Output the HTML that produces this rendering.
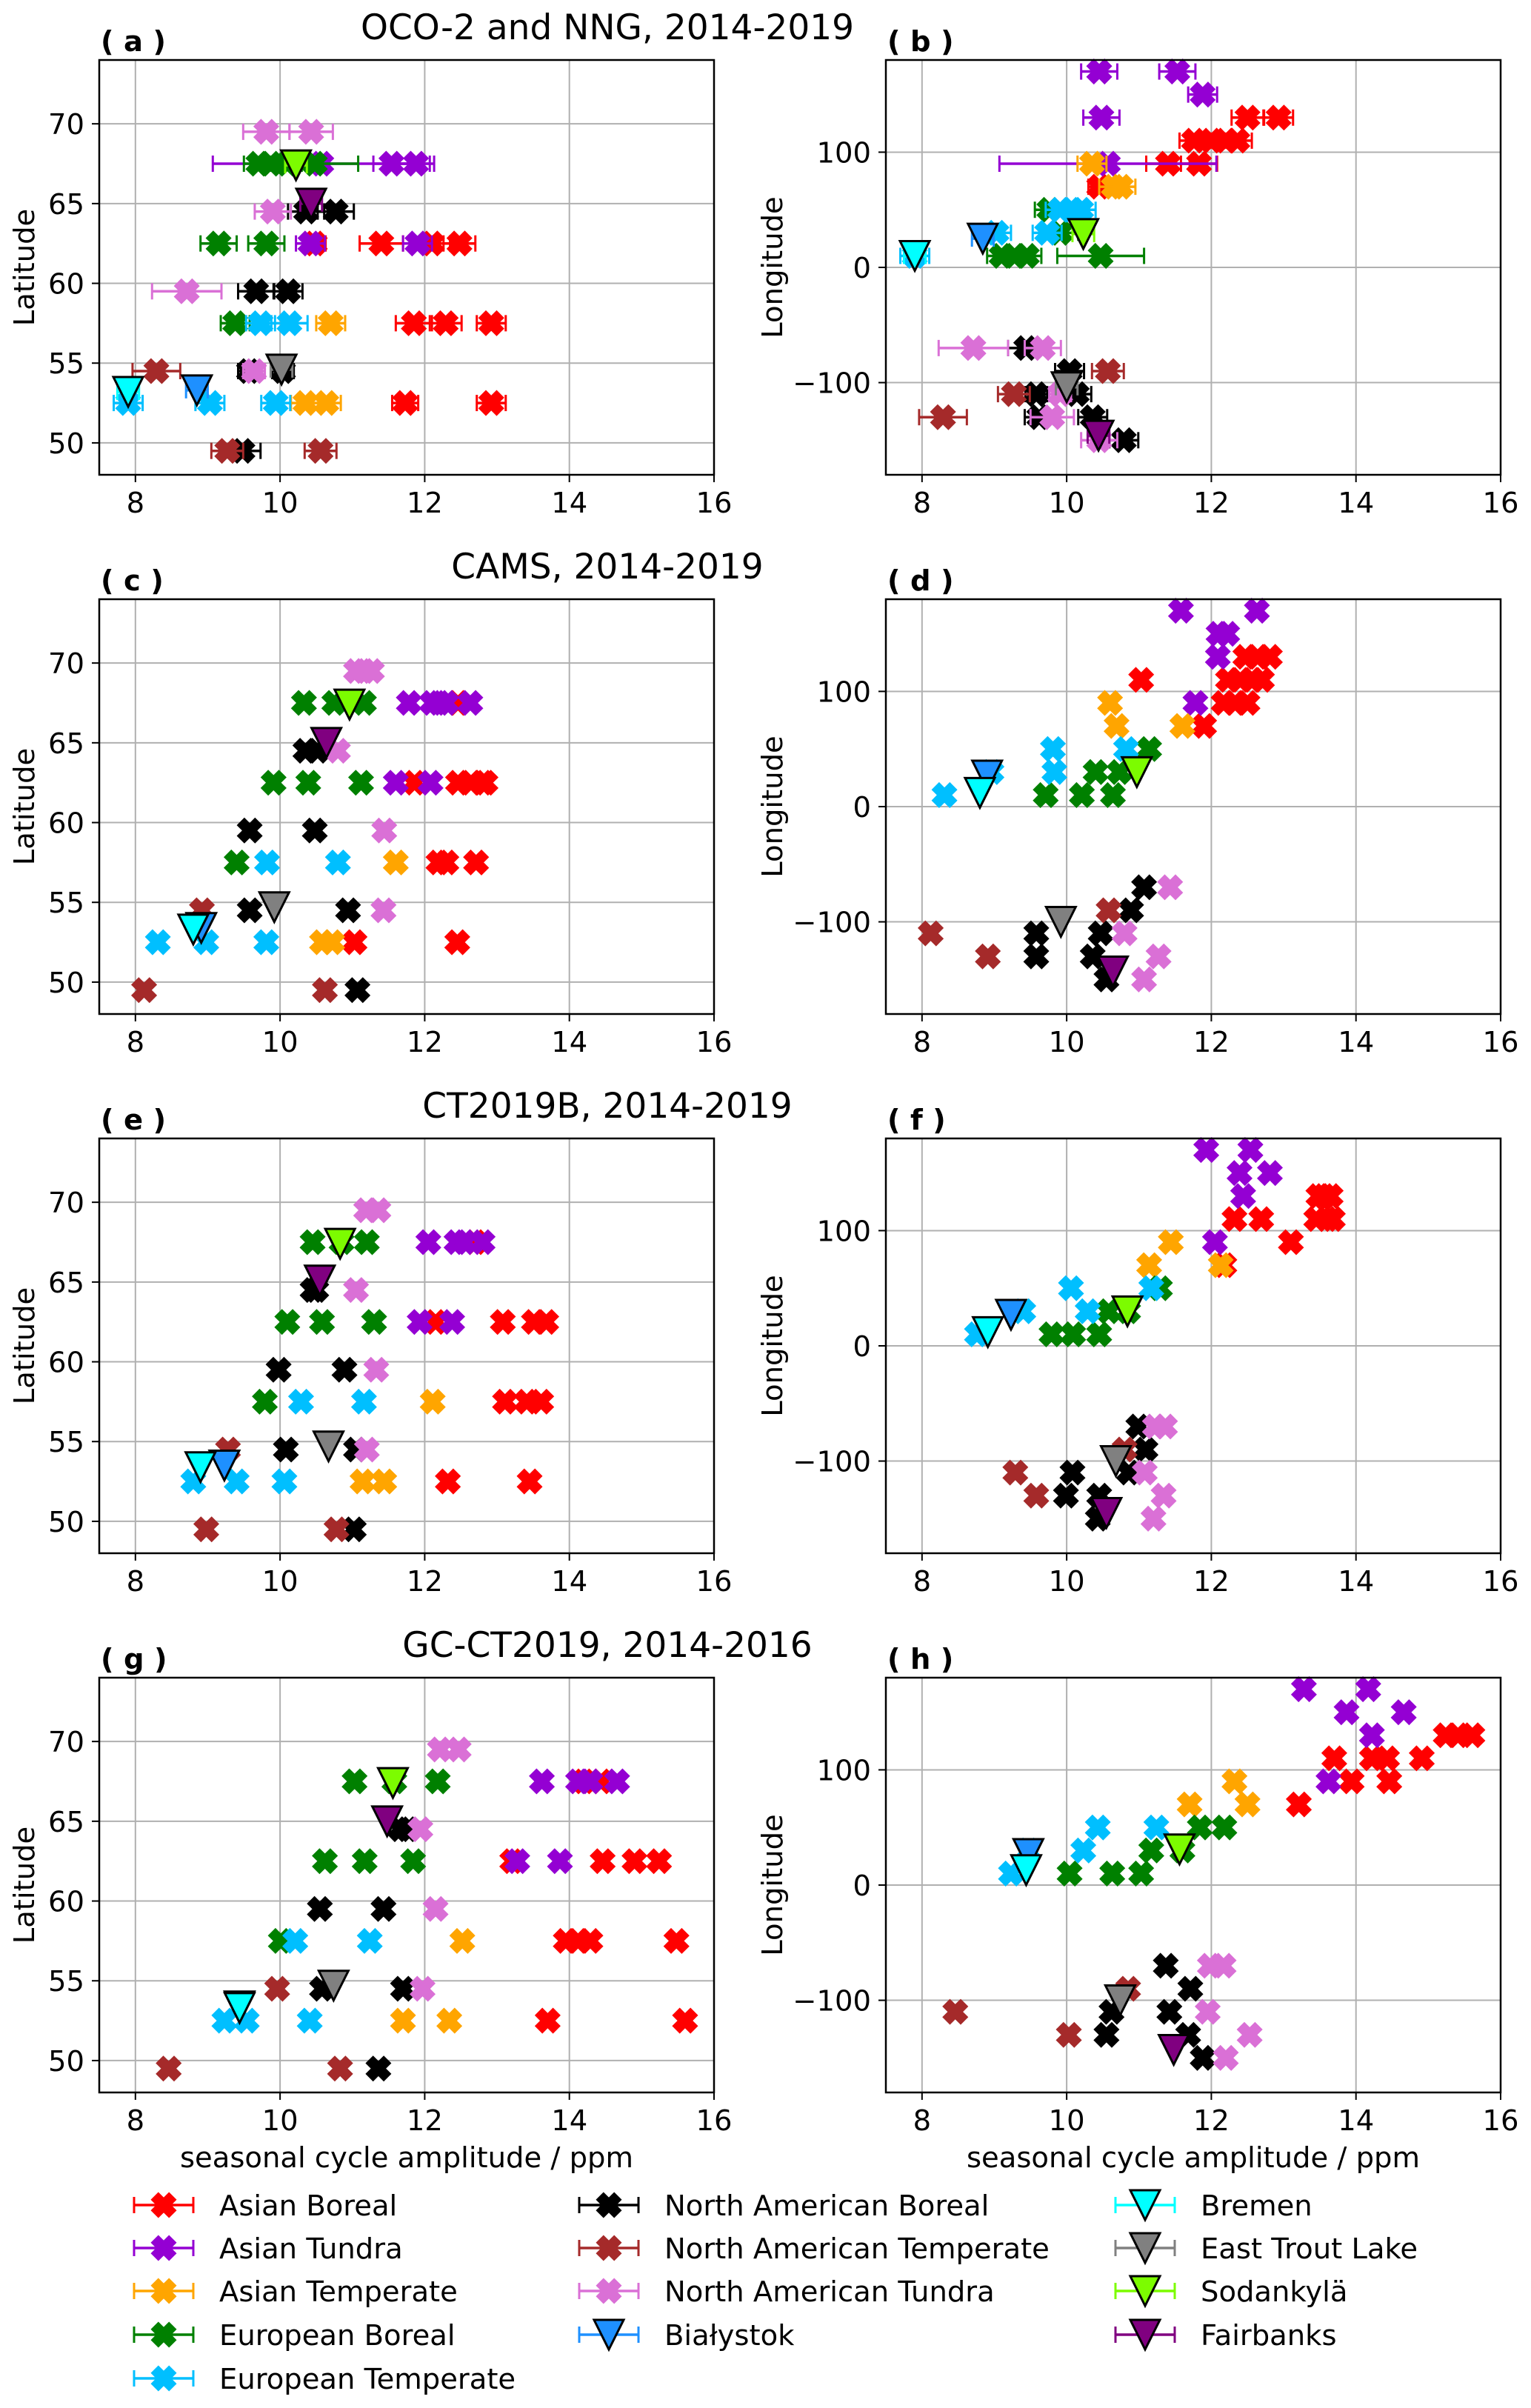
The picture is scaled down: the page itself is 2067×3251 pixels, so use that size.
<!DOCTYPE html>
<html><head><meta charset="utf-8"><title>Seasonal cycle amplitude</title>
<style>
html,body{margin:0;padding:0;background:#fff;}
svg{display:block;font-family:"DejaVu Sans","Liberation Sans",sans-serif;}
</style></head>
<body>
<svg id="fig" width="2067" height="3251" viewBox="0 0 2067 3251" xmlns="http://www.w3.org/2000/svg"></svg>
<script>
// ---------- Panel (a): OCO-2 and NNG, latitude ----------
const aAB_x=[10.48,11.4,12.1,12.48,11.85,12.29,12.92,11.73,12.92];
const aAB_y=[62.5,62.5,62.5,62.5,57.5,57.5,57.5,52.5,52.5];
const aAB_e=[0.15,0.3,0.25,0.22,0.25,0.22,0.2,0.18,0.2];
const aAT_x=[10.57,11.54,11.88,10.42,11.9];
const aAT_y=[67.5,67.5,67.5,62.5,62.5];
const aAT_e=[1.5,0.25,0.25,0.2,0.2];
const aATe_x=[10.7,10.35,10.64];
const aATe_y=[57.5,52.5,52.5];
const aATe_e=[0.2,0.2,0.2];
const aEB_x=[9.7,9.87,10.1,10.48,9.15,9.81,9.38];
const aEB_y=[67.5,67.5,67.5,67.5,62.5,62.5,57.5];
const aEB_e=[0.2,0.2,0.2,0.6,0.25,0.25,0.2];
const aET_x=[9.73,10.13,7.9,9.03,9.94];
const aET_y=[57.5,57.5,52.5,52.5,52.5];
const aET_e=[0.2,0.25,0.2,0.2,0.2];
const aNAB_x=[10.36,10.77,9.67,10.11,9.57,10.04,9.48];
const aNAB_y=[64.5,64.5,59.5,59.5,54.5,54.5,49.5];
const aNAB_e=[0.25,0.25,0.25,0.2,0.15,0.15,0.25];
const aNAT_x=[8.29,9.27,10.56];
const aNAT_y=[54.5,49.5,49.5];
const aNAT_e=[0.33,0.22,0.22];
const aNATu_x=[9.81,10.43,9.9,8.71,9.64];
const aNATu_y=[69.5,69.5,64.5,59.5,54.5];
const aNATu_e=[0.32,0.3,0.25,0.48,0.15];
// sites order: Bialystok, Bremen, East Trout Lake, Sodankyla, Fairbanks
const aSite_x=[8.85,7.9,10.02,10.22,10.43];
const aSite_y=[53.3,53.2,54.6,67.4,65.0];
const aSite_e=[0.15,0.15,0.15,0.15,0.15];

// ---------- Panel (b): OCO-2 and NNG, longitude ----------
const bAB_x=[12.5,12.93,11.76,12.0,12.2,12.36,11.4,11.83,10.45];
const bAB_y=[130,130,110,110,110,110,90,90,70];
const bAB_e=[0.22,0.2,0.2,0.2,0.2,0.2,0.3,0.25,0.15];
const bAT_x=[10.45,11.53,11.88,10.48,10.57];
const bAT_y=[170,170,150,130,90];
const bAT_e=[0.25,0.25,0.2,0.25,1.5];
const bATe_x=[10.35,10.65,10.75];
const bATe_y=[90,70,70];
const bATe_e=[0.2,0.2,0.2];
const bEB_x=[9.76,9.91,9.1,9.28,9.45,10.47];
const bEB_y=[50,30,10,10,10,10];
const bEB_e=[0.2,0.25,0.2,0.2,0.2,0.6];
const bET_x=[9.91,10.08,10.2,9.03,9.73,7.9];
const bET_y=[50,50,50,30,30,10];
const bET_e=[0.2,0.2,0.2,0.2,0.2,0.2];
const bNAB_x=[9.44,10.04,9.58,10.14,9.62,10.36,10.79];
const bNAB_y=[-70,-90,-110,-110,-130,-130,-150];
const bNAB_e=[0.25,0.2,0.15,0.2,0.2,0.2,0.2];
const bNAT_x=[10.57,9.27,8.29];
const bNAT_y=[-90,-110,-130];
const bNAT_e=[0.22,0.22,0.33];
const bNATu_x=[8.71,9.67,9.91,9.8,10.45];
const bNATu_y=[-70,-70,-110,-130,-150];
const bNATu_e=[0.48,0.25,0.15,0.3,0.25];
const bSite_x=[8.84,7.9,10.0,10.23,10.44];
const bSite_y=[25,10,-104,29,-146];
const bSite_e=[0.15,0.15,0.15,0.15,0.15];

// ---------- Panel (c): CAMS, latitude ----------
const cAB_x=[12.46,11.86,12.46,12.64,12.8,12.84,12.19,12.3,12.71,11.03,12.45];
const cAB_y=[67.5,62.5,62.5,62.5,62.5,62.5,57.5,57.5,57.5,52.5,52.5];
const cAT_x=[11.78,12.1,12.2,12.3,12.63,11.6,12.08];
const cAT_y=[67.5,67.5,67.5,67.5,67.5,62.5,62.5];
const cATe_x=[11.6,10.58,10.72];
const cATe_y=[57.5,52.5,52.5];
const cEB_x=[10.33,10.75,11.16,9.91,10.39,11.12,9.4];
const cEB_y=[67.5,67.5,67.5,62.5,62.5,62.5,57.5];
const cET_x=[9.82,10.8,8.31,8.98,9.81];
const cET_y=[57.5,57.5,52.5,52.5,52.5];
const cNAB_x=[10.35,10.52,9.58,10.48,9.58,10.94,11.07];
const cNAB_y=[64.5,64.5,59.5,59.5,54.5,54.5,49.5];
const cNAT_x=[8.92,8.12,10.62];
const cNAT_y=[54.5,49.5,49.5];
const cNATu_x=[11.05,11.16,11.27,10.8,11.44,11.43];
const cNATu_y=[69.5,69.5,69.5,64.5,59.5,54.5];
const cSite_x=[8.91,8.8,9.92,10.96,10.64];
const cSite_y=[53.4,53.3,54.7,67.4,65.0];

// ---------- Panel (d): CAMS, longitude ----------
const dAB_x=[12.47,12.64,12.81,11.03,12.23,12.4,12.57,12.7,12.17,12.33,12.5,11.9];
const dAB_y=[130,130,130,110,110,110,110,110,90,90,90,70];
const dAT_x=[11.58,12.63,12.1,12.22,12.09,11.78];
const dAT_y=[170,170,150,150,130,90];
const dATe_x=[10.6,10.69,11.6];
const dATe_y=[90,70,70];
const dEB_x=[11.14,10.4,10.73,9.71,10.21,10.64];
const dEB_y=[50,30,30,10,10,10];
const dET_x=[9.81,10.82,9.83,8.96,8.31];
const dET_y=[50,50,30,30,10];
const dNAB_x=[11.07,10.89,9.58,10.47,9.58,10.36,10.55];
const dNAB_y=[-70,-90,-110,-110,-130,-130,-150];
const dNAT_x=[10.58,8.12,8.91];
const dNAT_y=[-90,-110,-130];
const dNATu_x=[11.43,10.8,11.27,11.07];
const dNATu_y=[-70,-110,-130,-150];
const dSite_x=[8.9,8.8,9.92,10.97,10.64];
const dSite_y=[27,12,-100,30,-143];

// ---------- Panel (e): CT2019B, latitude ----------
const eAB_x=[12.7,12.15,13.08,13.51,13.68,13.11,13.41,13.61,12.32,13.45];
const eAB_y=[67.5,62.5,62.5,62.5,62.5,57.5,57.5,57.5,52.5,52.5];
const eAT_x=[12.05,12.44,12.55,12.8,11.93,12.38];
const eAT_y=[67.5,67.5,67.5,67.5,62.5,62.5];
const eATe_x=[12.11,11.14,11.44];
const eATe_y=[57.5,52.5,52.5];
const eEB_x=[10.45,10.85,11.2,10.1,10.58,11.3,9.79];
const eEB_y=[67.5,67.5,67.5,62.5,62.5,62.5,57.5];
const eET_x=[10.29,11.16,8.8,9.4,10.06];
const eET_y=[57.5,57.5,52.5,52.5,52.5];
const eNAB_x=[10.45,10.5,9.98,10.89,10.08,11.05,11.02];
const eNAB_y=[64.5,64.5,59.5,59.5,54.5,54.5,49.5];
const eNAT_x=[9.28,8.98,10.78];
const eNAT_y=[54.5,49.5,49.5];
const eNATu_x=[11.19,11.36,11.05,11.33,11.2];
const eNATu_y=[69.5,69.5,64.5,59.5,54.5];
const eSite_x=[9.23,8.9,10.67,10.83,10.55];
const eSite_y=[53.5,53.4,54.7,67.4,65.1];

// ---------- Panel (f): CT2019B, longitude ----------
const fAB_x=[13.48,13.56,13.65,12.32,12.69,13.45,13.6,13.68,13.1,12.18];
const fAB_y=[130,130,130,110,110,110,110,110,90,70];
const fAT_x=[11.93,12.54,12.39,12.81,12.44,12.05];
const fAT_y=[170,170,150,150,130,90];
const fATe_x=[11.44,11.14,12.13];
const fATe_y=[90,70,70];
const fEB_x=[11.29,10.58,10.85,9.79,10.09,10.45];
const fEB_y=[50,30,30,10,10,10];
const fET_x=[10.06,11.17,9.4,10.29,8.76];
const fET_y=[50,50,30,30,10];
const fNAB_x=[10.99,11.09,10.08,10.86,9.99,10.45,10.43];
const fNAB_y=[-70,-90,-110,-110,-130,-130,-150];
const fNAT_x=[10.8,9.29,9.58];
const fNAT_y=[-90,-110,-130];
const fNATu_x=[11.22,11.36,11.08,11.34,11.2];
const fNATu_y=[-70,-70,-110,-130,-150];
const fSite_x=[9.23,8.91,10.68,10.84,10.55];
const fSite_y=[27,12,-100,30,-145];

// ---------- Panel (g): GC-CT2019, latitude ----------
const gAB_x=[14.2,14.44,13.21,14.46,14.9,15.24,13.95,14.12,14.29,15.48,13.7,15.6];
const gAB_y=[67.5,67.5,62.5,62.5,62.5,62.5,57.5,57.5,57.5,57.5,52.5,52.5];
const gAT_x=[13.62,14.12,14.29,14.66,13.28,13.87];
const gAT_y=[67.5,67.5,67.5,67.5,62.5,62.5];
const gATe_x=[12.52,11.7,12.34];
const gATe_y=[57.5,52.5,52.5];
const gEB_x=[11.03,11.58,12.18,10.62,11.17,11.84,10.01];
const gEB_y=[67.5,67.5,67.5,62.5,62.5,62.5,57.5];
const gET_x=[10.21,11.24,9.23,9.54,10.41];
const gET_y=[57.5,57.5,52.5,52.5,52.5];
const gNAB_x=[11.66,11.76,10.55,11.43,10.58,11.7,11.36];
const gNAB_y=[64.5,64.5,59.5,59.5,54.5,54.5,49.5];
const gNAT_x=[9.96,8.46,10.83];
const gNAT_y=[54.5,49.5,49.5];
const gNATu_x=[12.21,12.47,11.94,12.15,11.97];
const gNATu_y=[69.5,69.5,64.5,59.5,54.5];
const gSite_x=[9.44,9.44,10.74,11.56,11.48];
const gSite_y=[53.4,53.3,54.7,67.4,65.0];

// ---------- Panel (h): GC-CT2019, longitude ----------
const hAB_x=[15.24,15.41,15.61,13.7,14.22,14.43,14.91,13.94,14.46,13.21];
const hAB_y=[130,130,130,110,110,110,110,90,90,70];
const hAT_x=[13.28,14.17,13.87,14.66,14.22,13.62];
const hAT_y=[170,170,150,150,130,90];
const hATe_x=[12.32,11.7,12.5];
const hATe_y=[90,70,70];
const hEB_x=[11.84,12.18,11.17,11.6,10.04,10.63,11.03];
const hEB_y=[50,50,30,30,10,10,10];
const hET_x=[10.43,11.24,9.47,10.23,9.23];
const hET_y=[50,50,30,30,10];
const hNAB_x=[11.37,11.71,10.62,11.42,10.55,11.68,11.88];
const hNAB_y=[-70,-90,-110,-110,-130,-130,-150];
const hNAT_x=[10.85,8.46,10.03];
const hNAT_y=[-90,-110,-130];
const hNATu_x=[11.98,12.17,11.95,12.53,12.2];
const hNATu_y=[-70,-70,-110,-130,-150];
const hSite_x=[9.47,9.44,10.74,11.56,11.48];
const hSite_y=[27,13,-100,31,-143];

// ---------- tick labels & titles ----------
const xTicks=[8,10,12,14,16];
const latTicks=[50,55,60,65,70];
const lonTicks=[-100,0,100];
const rowTitles=["OCO-2 and NNG, 2014-2019","CAMS, 2014-2019","CT2019B, 2014-2019","GC-CT2019, 2014-2016"];
const regionNames=["Asian Boreal","Asian Tundra","Asian Temperate","European Boreal","European Temperate","North American Boreal","North American Temperate","North American Tundra"];
const regionColors=["#ff0000","#9400d3","#ffa500","#008000","#00bfff","#000000","#a52a2a","#da70d6"];
const siteNames=["Białystok","Bremen","East Trout Lake","Sodankylä","Fairbanks"];
const siteColors=["#1e90ff","#00ffff","#808080","#7cfc00","#800080"];

const NS="http://www.w3.org/2000/svg";
const svg=document.getElementById('fig');
function mk(tag,attrs,parent){const e=document.createElementNS(NS,tag);for(const k in attrs)e.setAttribute(k,attrs[k]);(parent||svg).appendChild(e);return e;}
function slug(s){return s.toLowerCase().normalize('NFD').replace(/[^a-z0-9]+/g,'-').replace(/^-|-$/g,'');}

const ROW_TOP=[81,809,1537,2265];
const PH=560, PW=830;
const COL_X=[134,1196];
const XMIN=7.5, XMAX=16;
const FS=38.5;

// X marker polygon (matplotlib filled 'X')
const XS=34;
const xPoly=(function(){
  const w=0.2,L=0.5;
  const pts=[[w,w],[L,w],[L,-w],[w,-w],[w,-L],[-w,-L],[-w,-w],[-L,-w],[-L,w],[-w,w],[-w,L],[w,L]];
  const c=Math.SQRT1_2;
  return pts.map(p=>[(p[0]-p[1])*c*XS,(p[0]+p[1])*c*XS]);
})();
function xMarker(g,cx,cy,color){
  const d=xPoly.map((p,i)=>(i?'L':'M')+(cx+p[0]).toFixed(1)+' '+(cy+p[1]).toFixed(1)).join(' ')+'Z';
  return mk('path',{d:d,fill:color,stroke:color,'stroke-width':1},g);
}
function triMarker(g,cx,cy,color){
  const h=20;
  return mk('path',{d:`M${cx-h} ${cy-h} L${cx+h} ${cy-h} L${cx} ${cy+h} Z`,fill:color,stroke:'#000','stroke-width':3,'stroke-linejoin':'miter'},g);
}
function errBar(g,x1,x2,cy,color){
  mk('line',{x1:x1,x2:x2,y1:cy,y2:cy,stroke:color,'stroke-width':3.5},g);
  mk('line',{x1:x1,x2:x1,y1:cy-11,y2:cy+11,stroke:color,'stroke-width':3},g);
  mk('line',{x1:x2,x2:x2,y1:cy-11,y2:cy+11,stroke:color,'stroke-width':3},g);
}

function panel(letter,row,col,series,sites){
  const x0=COL_X[col], y0=ROW_TOP[row];
  const isLat=col===0;
  const YMIN=isLat?48:-180, YMAX=isLat?74:180;
  const sx=v=>x0+(v-XMIN)/(XMAX-XMIN)*PW;
  const sy=v=>y0+(YMAX-v)/(YMAX-YMIN)*PH;
  const g=mk('g',{});
  
  
  const grid=mk('g',{},g);
  
  
  const yt=isLat?latTicks:lonTicks;
  xTicks.forEach(t=>{mk('line',{x1:sx(t),x2:sx(t),y1:y0,y2:y0+PH,stroke:'#b0b0b0','stroke-width':2},grid);});
  yt.forEach(t=>{mk('line',{x1:x0,x2:x0+PW,y1:sy(t),y2:sy(t),stroke:'#b0b0b0','stroke-width':2},grid);});
  const xax=mk('g',{},g);
  
  
  xTicks.forEach(t=>{
    mk('line',{x1:sx(t),x2:sx(t),y1:y0+PH,y2:y0+PH+10,stroke:'#000','stroke-width':2},xax);
    const tx=mk('text',{x:sx(t),y:y0+PH+51,'font-size':FS,'text-anchor':'middle',fill:'#000'},xax);
    tx.textContent=t;
  });
  const yax=mk('g',{},g);
  
  
  yt.forEach(t=>{
    mk('line',{x1:x0-10,x2:x0,y1:sy(t),y2:sy(t),stroke:'#000','stroke-width':2},yax);
    const tx=mk('text',{x:x0-20,y:sy(t)+14,'font-size':FS,'text-anchor':'end',fill:'#000'},yax);
    tx.textContent=(t<0?'\u2212'+Math.abs(t):t);
  });
  const yl=mk('text',{x:0,y:0,'font-size':FS,'text-anchor':'middle',fill:'#000',transform:`translate(${isLat?x0-88:x0-140},${y0+PH/2}) rotate(-90)`},g);
  
  
  yl.textContent=isLat?'Latitude':'Longitude';
  if(row===3){
    const xl=mk('text',{x:x0+PW/2,y:y0+PH+101,'font-size':FS,'text-anchor':'middle',fill:'#000'},g);
    
    
    xl.textContent='seasonal cycle amplitude / ppm';
  }
  const pl=mk('text',{x:x0+2,y:y0-12,'font-size':FS,'font-weight':'bold',fill:'#000'},g);
  
  
  pl.textContent='( '+letter+' )';
  series.forEach((s,i)=>{
    const sg=mk('g',{},g);
    
    
    s[0].forEach((v,j)=>{
      if(s[2]) errBar(sg,sx(v-s[2][j]),sx(v+s[2][j]),sy(s[1][j]),regionColors[i]);
      const m=xMarker(sg,sx(v),sy(s[1][j]),regionColors[i]);
      
      
    });
  });
  const stg=mk('g',{},g);
  
  
  sites[0].forEach((v,j)=>{
    if(sites[2]) errBar(stg,sx(v-sites[2][j]),sx(v+sites[2][j]),sy(sites[1][j]),siteColors[j]);
    const m=triMarker(stg,sx(v),sy(sites[1][j]),siteColors[j]);
    
    
  });
  const fr=mk('rect',{x:x0,y:y0,width:PW,height:PH,fill:'none',stroke:'#000','stroke-width':2.5},g);
  
  
}

panel('a',0,0,[[aAB_x,aAB_y,aAB_e],[aAT_x,aAT_y,aAT_e],[aATe_x,aATe_y,aATe_e],[aEB_x,aEB_y,aEB_e],[aET_x,aET_y,aET_e],[aNAB_x,aNAB_y,aNAB_e],[aNAT_x,aNAT_y,aNAT_e],[aNATu_x,aNATu_y,aNATu_e]],[aSite_x,aSite_y,aSite_e]);
panel('b',0,1,[[bAB_x,bAB_y,bAB_e],[bAT_x,bAT_y,bAT_e],[bATe_x,bATe_y,bATe_e],[bEB_x,bEB_y,bEB_e],[bET_x,bET_y,bET_e],[bNAB_x,bNAB_y,bNAB_e],[bNAT_x,bNAT_y,bNAT_e],[bNATu_x,bNATu_y,bNATu_e]],[bSite_x,bSite_y,bSite_e]);
panel('c',1,0,[[cAB_x,cAB_y],[cAT_x,cAT_y],[cATe_x,cATe_y],[cEB_x,cEB_y],[cET_x,cET_y],[cNAB_x,cNAB_y],[cNAT_x,cNAT_y],[cNATu_x,cNATu_y]],[cSite_x,cSite_y]);
panel('d',1,1,[[dAB_x,dAB_y],[dAT_x,dAT_y],[dATe_x,dATe_y],[dEB_x,dEB_y],[dET_x,dET_y],[dNAB_x,dNAB_y],[dNAT_x,dNAT_y],[dNATu_x,dNATu_y]],[dSite_x,dSite_y]);
panel('e',2,0,[[eAB_x,eAB_y],[eAT_x,eAT_y],[eATe_x,eATe_y],[eEB_x,eEB_y],[eET_x,eET_y],[eNAB_x,eNAB_y],[eNAT_x,eNAT_y],[eNATu_x,eNATu_y]],[eSite_x,eSite_y]);
panel('f',2,1,[[fAB_x,fAB_y],[fAT_x,fAT_y],[fATe_x,fATe_y],[fEB_x,fEB_y],[fET_x,fET_y],[fNAB_x,fNAB_y],[fNAT_x,fNAT_y],[fNATu_x,fNATu_y]],[fSite_x,fSite_y]);
panel('g',3,0,[[gAB_x,gAB_y],[gAT_x,gAT_y],[gATe_x,gATe_y],[gEB_x,gEB_y],[gET_x,gET_y],[gNAB_x,gNAB_y],[gNAT_x,gNAT_y],[gNATu_x,gNATu_y]],[gSite_x,gSite_y]);
panel('h',3,1,[[hAB_x,hAB_y],[hAT_x,hAT_y],[hATe_x,hATe_y],[hEB_x,hEB_y],[hET_x,hET_y],[hNAB_x,hNAB_y],[hNAT_x,hNAT_y],[hNATu_x,hNATu_y]],[hSite_x,hSite_y]);

rowTitles.forEach((t,i)=>{
  const tx=mk('text',{x:820,y:ROW_TOP[i]-28,'font-size':47,'text-anchor':'middle',fill:'#000'});
  
  
  tx.textContent=t;
});

const leg=mk('g',{});


const legRows=[2977,3035,3093,3152,3211];
const legEntries=[];
regionNames.forEach((n,i)=>legEntries.push({n:n,c:regionColors[i],tri:false}));
siteNames.forEach((n,i)=>legEntries.push({n:n,c:siteColors[i],tri:true}));
const legCols=[[0,1,2,3,4],[5,6,7,8],[9,10,11,12]];
const legColX=[221,822,1546];
legCols.forEach((col,ci)=>{
  col.forEach((idx,ri)=>{
    const e=legEntries[idx];
    const cx=legColX[ci], cy=legRows[ri];
    const eg=mk('g',{},leg);
    
    
    mk('line',{x1:cx-40,x2:cx+40,y1:cy,y2:cy,stroke:e.c,'stroke-width':3.5},eg);
    mk('line',{x1:cx-40,x2:cx-40,y1:cy-11,y2:cy+11,stroke:e.c,'stroke-width':3},eg);
    mk('line',{x1:cx+40,x2:cx+40,y1:cy-11,y2:cy+11,stroke:e.c,'stroke-width':3},eg);
    if(e.tri) triMarker(eg,cx,cy,e.c); else xMarker(eg,cx,cy,e.c);
    const tx=mk('text',{x:cx+75,y:cy+14,'font-size':FS,fill:'#000'},eg);
    tx.textContent=e.n;
  });
});
</script>
</body></html>
